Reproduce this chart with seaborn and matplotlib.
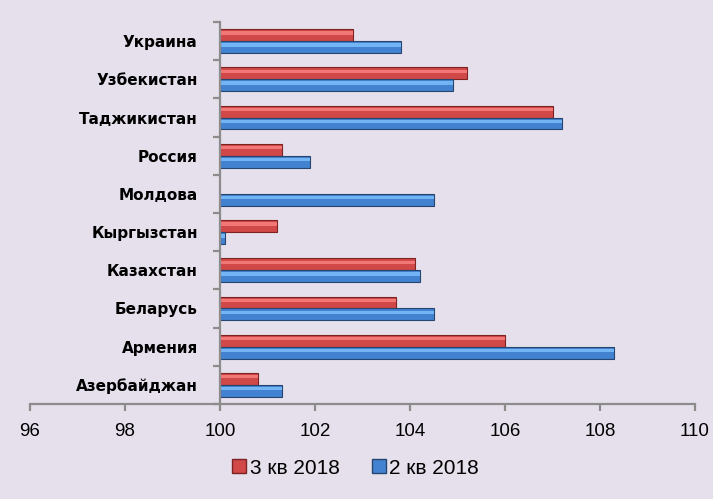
import matplotlib
matplotlib.use("Agg")
import matplotlib.pyplot as plt
import matplotlib.ticker as mticker
from matplotlib.patches import Rectangle
from matplotlib.lines import Line2D
import seaborn as sns
import pandas as pd
import numpy as np

# data (index, base = 100)
countries = ["Украина", "Узбекистан", "Таджикистан", "Россия", "Молдова",
             "Кыргызстан", "Казахстан", "Беларусь", "Армения", "Азербайджан"]
q3_2018 = [102.8, 105.2, 107.0, 101.3, np.nan, 101.2, 104.1, 103.7, 106.0, 100.8]
q2_2018 = [103.8, 104.9, 107.2, 101.9, 104.5, 100.1, 104.2, 104.5, 108.3, 101.3]
series = ["3 кв 2018", "2 кв 2018"]
x_ticks = [96, 98, 100, 102, 104, 106, 108, 110]
base = 100

bg = "#E6E0EC"
colors = {"3 кв 2018": "#D04848", "2 кв 2018": "#4282D0"}
edges = {"3 кв 2018": "#7E2222", "2 кв 2018": "#27466F"}
lights = {"3 кв 2018": "#F27878", "2 кв 2018": "#72B4F4"}
axis_col = "#8C8C8C"
narrow = ["Liberation Sans", "DejaVu Sans"]

df = pd.DataFrame({"country": countries * 2,
                   "value": q3_2018 + q2_2018,
                   "series": [series[0]] * len(countries) + [series[1]] * len(countries)})
df["delta"] = df["value"] - base

sns.set_style("white")
plt.rcParams["font.family"] = ["DejaVu Sans"]

fig = plt.figure(figsize=(7.13, 4.99), dpi=100, facecolor=bg)
ax = fig.add_axes([0.0421, 0.1904, 0.9327, 0.7655], facecolor=bg)

sns.barplot(data=df, y="country", x="delta", hue="series", order=countries,
            hue_order=series, palette=colors, orient="h", width=0.62,
            ax=ax, legend=False, saturation=1, linewidth=0.8)

# bevel-ish look: dark edge + light stripe on each bar
for cont, s in zip(ax.containers, series):
    for p in cont:
        if np.isnan(p.get_width()) or p.get_width() == 0:
            continue
        p.set_edgecolor(edges[s])
        x0, y0 = p.get_x(), p.get_y()
        w, h = p.get_width(), p.get_height()
        ax.add_patch(Rectangle((x0, y0 + h * 0.18), w, h * 0.28,
                               facecolor=lights[s], edgecolor="none", zorder=p.get_zorder() + 0.1))

ax.set_xlim(x_ticks[0] - base, x_ticks[-1] - base)
ax.set_ylim(len(countries) - 0.5, -0.5)
ax.set_xticks([t - base for t in x_ticks])
ax.xaxis.set_major_formatter(mticker.FuncFormatter(lambda v, pos: f"{v + base:.0f}"))
ax.set_xlabel("")
ax.set_ylabel("")

for side in ["top", "right"]:
    ax.spines[side].set_visible(False)
ax.spines["left"].set_position(("data", 0))
for side in ["left", "bottom"]:
    ax.spines[side].set_color(axis_col)
    ax.spines[side].set_linewidth(1.6)

ax.tick_params(axis="x", direction="out", bottom=True, length=5, width=1.6, color=axis_col,
               pad=9, labelsize=13.5, labelcolor="black")
ax.tick_params(axis="y", which="major", left=False, length=0, pad=16, labelsize=11,
               labelcolor="black")
ax.set_yticks(np.arange(-0.5, len(countries), 1.0), minor=True)
ax.tick_params(axis="y", which="minor", left=True, direction="out", length=5, width=1.6,
               color=axis_col)
for lab in ax.get_yticklabels():
    lab.set_fontweight("bold")
for lab in ax.get_xticklabels():
    lab.set_family(narrow)

handles = [Line2D([], [], marker="s", linestyle="none", markersize=10,
                  markerfacecolor=colors[s], markeredgecolor=edges[s]) for s in series]
fig.legend(handles, series, loc="center", bbox_to_anchor=(355 / 713, 1 - 468 / 499),
           ncol=2, frameon=False, handletextpad=0.1, columnspacing=1.5,
           handlelength=0.8, labelcolor="black", prop={"family": narrow, "size": 15})

fig.savefig("out.png", dpi=100, facecolor=bg)
